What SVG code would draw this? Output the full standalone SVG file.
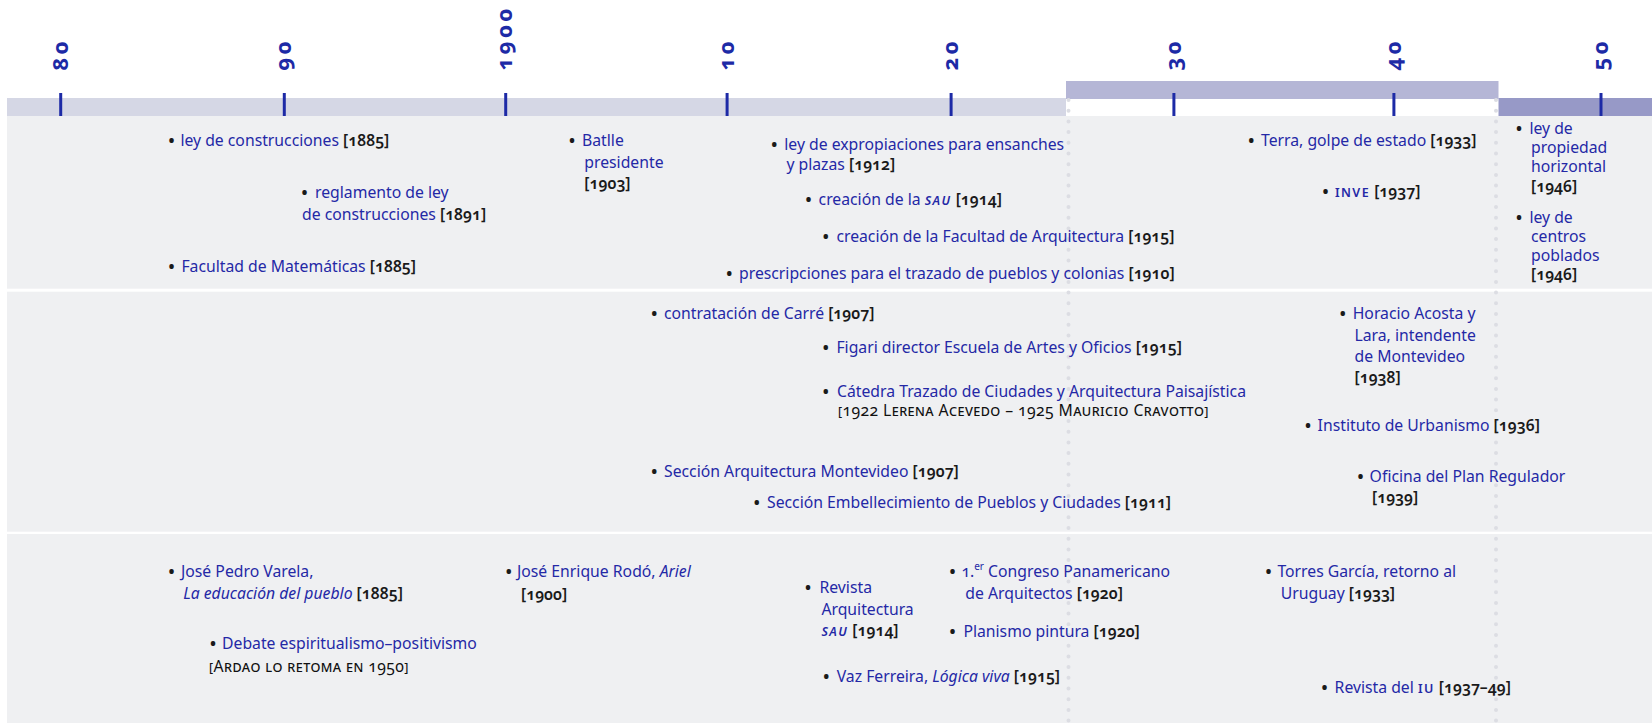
<svg xmlns="http://www.w3.org/2000/svg" width="1652" height="723" viewBox="0 0 1652 723">
<style>
.t{font-family:"Noto Sans","Open Sans",sans-serif;font-size:15.75px;fill:#2428a6;font-variant-numeric:oldstyle-nums;font-feature-settings:"onum" 1}
.k{fill:#1a1a1a;font-weight:600}
.i{font-style:italic}
.sc{font-size:12.5px;letter-spacing:1.4px;font-weight:600}
.scb{font-variant:small-caps;fill:#111111;letter-spacing:0.4px}
.b{font-family:"Noto Sans",sans-serif;font-size:16px;font-weight:700;fill:#1a1a1a;text-anchor:middle}
.yr{font-family:"Noto Sans","Open Sans",sans-serif;font-weight:700;font-size:22px;fill:#1d2aa6;letter-spacing:3.5px;font-variant-numeric:oldstyle-nums;font-feature-settings:"onum" 1}
.tick{stroke:#1d2aa6;stroke-width:3}
.row{fill:#eff0f2}
.dots{stroke:#dcdde3;stroke-width:4;stroke-linecap:round;stroke-dasharray:0 10.7;fill:none}
</style>
<rect width="1652" height="723" fill="#ffffff"/>
<g id="background">
<rect class="row" x="7" y="116" width="1645" height="172.7"/>
<rect class="row" x="7" y="291.7" width="1645" height="240"/>
<rect class="row" x="7" y="534" width="1645" height="189"/>
<rect x="7" y="98" width="1059" height="18" fill="#d5d7e5"/>
<rect x="1066" y="81" width="432.5" height="18" fill="#b5b6d6"/>
<rect x="1498.5" y="98" width="153.5" height="18" fill="#9799c7"/>
</g>
<g id="connectors">
<line class="dots" x1="1068.5" y1="100" x2="1068.5" y2="723"/>
<line class="dots" x1="1496" y1="100" x2="1496" y2="723"/>
<line class="tick" x1="60.7" y1="93" x2="60.7" y2="116"/>
<line class="tick" x1="284.3" y1="93" x2="284.3" y2="116"/>
<line class="tick" x1="505.7" y1="93" x2="505.7" y2="116"/>
<line class="tick" x1="727.1" y1="93" x2="727.1" y2="116"/>
<line class="tick" x1="951.1" y1="93" x2="951.1" y2="116"/>
<line class="tick" x1="1173.9" y1="93" x2="1173.9" y2="116"/>
<line class="tick" x1="1393.9" y1="93" x2="1393.9" y2="116"/>
<line class="tick" x1="1601" y1="93" x2="1601" y2="116"/>
</g>
<g id="axis-labels">
<text class="yr" transform="translate(67.5,70.5) rotate(-90)">80</text>
<text class="yr" transform="translate(291,70.5) rotate(-90)">90</text>
<text class="yr" transform="translate(512.4,70.5) rotate(-90)">1900</text>
<text class="yr" transform="translate(733.8,70.5) rotate(-90)">10</text>
<text class="yr" transform="translate(957.8,70.5) rotate(-90)">20</text>
<text class="yr" transform="translate(1180.6,70.5) rotate(-90)">30</text>
<text class="yr" transform="translate(1400.6,70.5) rotate(-90)">40</text>
<text class="yr" transform="translate(1607.7,70.5) rotate(-90)">50</text>
</g>
<g id="ev-ley-construcciones"><text class="b" x="171.4" y="146">•</text><text class="t" x="180.4" y="146">ley de construcciones <tspan class="k">[1885]</tspan></text></g>
<g id="ev-reglamento"><text class="b" x="304.6" y="198">•</text><text class="t" x="315" y="198">reglamento de ley<tspan x="302" y="220">de construcciones </tspan><tspan class="k">[1891]</tspan></text></g>
<g id="ev-facultad-matematicas"><text class="b" x="171.4" y="272">•</text><text class="t" x="181.4" y="272">Facultad de Matemáticas <tspan class="k">[1885]</tspan></text></g>
<g id="ev-batlle"><text class="b" x="572" y="146">•</text><text class="t" x="582" y="146">Batlle<tspan x="584.3" y="167.5">presidente</tspan><tspan class="k" x="584.3" y="189">[1903]</tspan></text></g>
<g id="ev-expropiaciones"><text class="b" x="774.3" y="150">•</text><text class="t" x="784.3" y="150">ley de expropiaciones para ensanches<tspan x="786.4" y="170">y plazas </tspan><tspan class="k">[1912]</tspan></text></g>
<g id="ev-sau"><text class="b" x="808.6" y="205">•</text><text class="t" x="818.6" y="205">creación de la <tspan class="i sc">SAU</tspan> <tspan class="k">[1914]</tspan></text></g>
<g id="ev-facultad-arquitectura"><text class="b" x="825.7" y="242">•</text><text class="t" x="836.4" y="242">creación de la Facultad de Arquitectura <tspan class="k">[1915]</tspan></text></g>
<g id="ev-prescripciones"><text class="b" x="729.3" y="279">•</text><text class="t" x="739" y="279">prescripciones para el trazado de pueblos y colonias <tspan class="k">[1910]</tspan></text></g>
<g id="ev-terra"><text class="b" x="1251.3" y="146">•</text><text class="t" x="1261" y="146">Terra, golpe de estado <tspan class="k">[1933]</tspan></text></g>
<g id="ev-inve"><text class="b" x="1325.5" y="197">•</text><text class="t" x="1335" y="197"><tspan class="sc">INVE</tspan> <tspan class="k">[1937]</tspan></text></g>
<g id="ev-propiedad-horizontal"><text class="b" x="1519" y="134">•</text><text class="t" x="1529.4" y="134">ley de<tspan x="1531" y="153">propiedad</tspan><tspan x="1531" y="172">horizontal</tspan><tspan class="k" x="1531" y="192">[1946]</tspan></text></g>
<g id="ev-centros-poblados"><text class="b" x="1519" y="223">•</text><text class="t" x="1529.4" y="223">ley de<tspan x="1531" y="242">centros</tspan><tspan x="1531" y="261">poblados</tspan><tspan class="k" x="1531" y="280">[1946]</tspan></text></g>
<g id="ev-carre"><text class="b" x="654.3" y="319.3">•</text><text class="t" x="664" y="319.3">contratación de Carré <tspan class="k">[1907]</tspan></text></g>
<g id="ev-figari"><text class="b" x="825.7" y="353.3">•</text><text class="t" x="836.4" y="353.3">Figari director Escuela de Artes y Oficios <tspan class="k">[1915]</tspan></text></g>
<g id="ev-catedra"><text class="b" x="825.7" y="397">•</text><text class="t" x="837" y="397">Cátedra Trazado de Ciudades y Arquitectura Paisajística<tspan class="scb" x="838" y="416">[1922 Lerena Acevedo – 1925 Mauricio Cravotto]</tspan></text></g>
<g id="ev-seccion-arquitectura"><text class="b" x="654.3" y="476.7">•</text><text class="t" x="664" y="476.7">Sección Arquitectura Montevideo <tspan class="k">[1907]</tspan></text></g>
<g id="ev-embellecimiento"><text class="b" x="756.8" y="508.3">•</text><text class="t" x="767" y="508.3">Sección Embellecimiento de Pueblos y Ciudades <tspan class="k">[1911]</tspan></text></g>
<g id="ev-acosta"><text class="b" x="1342.7" y="319.3">•</text><text class="t" x="1352.7" y="319.3">Horacio Acosta y<tspan x="1354.5" y="340.7">Lara, intendente</tspan><tspan x="1354.5" y="361.7">de Montevideo</tspan><tspan class="k" x="1354.5" y="383">[1938]</tspan></text></g>
<g id="ev-instituto"><text class="b" x="1308" y="430.7">•</text><text class="t" x="1317.6" y="430.7">Instituto de Urbanismo <tspan class="k">[1936]</tspan></text></g>
<g id="ev-oficina"><text class="b" x="1360.6" y="481.7">•</text><text class="t" x="1369.6" y="481.7">Oficina del Plan Regulador<tspan class="k" x="1372" y="502.7">[1939]</tspan></text></g>
<g id="ev-varela"><text class="b" x="171.4" y="577.3">•</text><text class="t" x="181" y="577.3">José Pedro Varela,<tspan class="i" x="183.2" y="599">La educación del pueblo</tspan> <tspan class="k">[1885]</tspan></text></g>
<g id="ev-debate"><text class="b" x="212.9" y="649.3">•</text><text class="t" x="222" y="649.3">Debate espiritualismo–positivismo<tspan class="scb" x="209" y="671.7">[Ardao lo retoma en 1950]</tspan></text></g>
<g id="ev-rodo"><text class="b" x="508.7" y="577.3">•</text><text class="t" x="517" y="577.3">José Enrique Rodó, <tspan class="i">Ariel</tspan><tspan class="k" x="521" y="600">[1900]</tspan></text></g>
<g id="ev-revista-arquitectura"><text class="b" x="808" y="593.3">•</text><text class="t" x="819.5" y="593.3">Revista<tspan x="821.4" y="615">Arquitectura</tspan><tspan class="i sc" x="821.4" y="636">SAU</tspan> <tspan class="k">[1914]</tspan></text></g>
<g id="ev-congreso"><text class="b" x="952.6" y="577.3">•</text><text class="t" x="961.4" y="577.3">1.<tspan font-size="10px" baseline-shift="super">er</tspan> Congreso Panamericano<tspan x="965.3" y="599.3">de Arquitectos </tspan><tspan class="k">[1920]</tspan></text></g>
<g id="ev-planismo"><text class="b" x="952.6" y="636.7">•</text><text class="t" x="963.4" y="636.7">Planismo pintura <tspan class="k">[1920]</tspan></text></g>
<g id="ev-vaz-ferreira"><text class="b" x="826.3" y="681.7">•</text><text class="t" x="836.7" y="681.7">Vaz Ferreira, <tspan class="i">Lógica viva</tspan> <tspan class="k">[1915]</tspan></text></g>
<g id="ev-torres-garcia"><text class="b" x="1268.6" y="577.3">•</text><text class="t" x="1277.4" y="577.3">Torres García, retorno al<tspan x="1280.7" y="599">Uruguay </tspan><tspan class="k">[1933]</tspan></text></g>
<g id="ev-revista-iu"><text class="b" x="1324.4" y="692.7">•</text><text class="t" x="1334.6" y="692.7">Revista del <tspan class="sc">IU</tspan> <tspan class="k">[1937–49]</tspan></text></g>
</svg>
